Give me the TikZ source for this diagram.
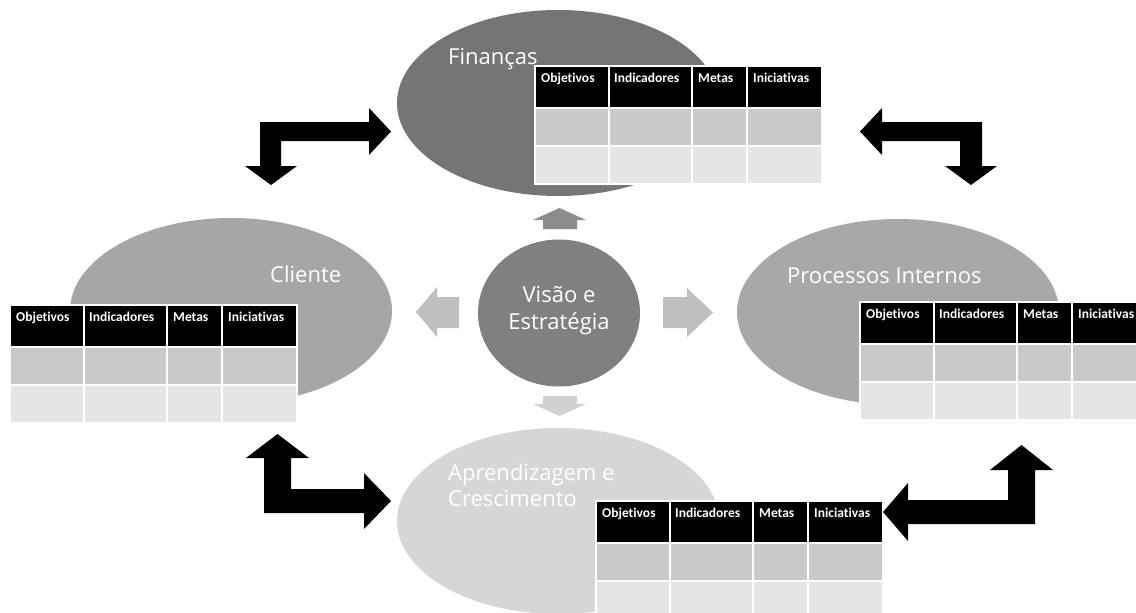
\documentclass[tikz,border=0pt]{standalone}
\usepackage{fontspec}
\setmainfont{Open Sans}
\newfontfamily\cellfont[Ligatures=NoCommon]{Carlito}
\usetikzlibrary{shapes.geometric}

\definecolor{finfill}{gray}{0.46}
\definecolor{clifill}{gray}{0.65}
\definecolor{profill}{gray}{0.66}
\definecolor{aprfill}{gray}{0.84}
\definecolor{corefill}{gray}{0.50}
\definecolor{uparrow}{gray}{0.55}
\definecolor{sidearrow}{gray}{0.75}
\definecolor{downarrow}{gray}{0.82}
\definecolor{rowone}{gray}{0.79}
\definecolor{rowtwo}{gray}{0.90}

\tikzset{
  persp/.style={ellipse, minimum width=322pt, minimum height=186pt, inner sep=0pt, draw=none},
  plabel/.style={text=white, font=\fontsize{22}{26}\selectfont, anchor=base west, inner sep=0pt},
  corelabel/.style={text=white, font=\fontsize{22}{27}\selectfont, align=center, inner sep=0pt},
  hdrcell/.style={fill=black, draw=white, line width=1.3pt},
  rowacell/.style={fill=rowone, draw=white, line width=1.3pt},
  rowbcell/.style={fill=rowtwo, draw=white, line width=1.3pt},
  hdrtext/.style={text=white, font=\cellfont\bfseries\fontsize{13.5}{15}\selectfont, anchor=base west, inner sep=0pt},
  bentarrow/.style={fill=black, draw=none},
}

% objectives / indicators / targets / initiatives grid; #1 name, #2 left, #3 top
\newcommand\bsctable[3]{%
  \begin{scope}[shift={(#2,#3)}]
    \foreach \xa/\xb in {0/74,74/157,157/212,212/287}{
      \draw[hdrcell] (\xa,0) rectangle (\xb,42);
      \draw[rowacell] (\xa,42) rectangle (\xb,80);
      \draw[rowbcell] (\xa,80) rectangle (\xb,118);
    }
    \node[hdrtext] (#1-obj) at (6,16) {Objetivos};
    \node[hdrtext] (#1-ind) at (79,16) {Indicadores};
    \node[hdrtext] (#1-met) at (163,16) {Metas};
    \node[hdrtext] (#1-ini) at (218,16) {Iniciativas};
  \end{scope}}

\begin{document}
\begin{tikzpicture}[x=1pt, y=-1pt]
  \useasboundingbox (0,0) rectangle (1136,613);
  \fill[white] (0,0) rectangle (1136,613);
  \clip (0,0) rectangle (1136,613);

  % four perspectives
  \node[persp, fill=finfill] (fin) at (558,103) {};
  \node[persp, fill=clifill] (cli) at (231,311) {};
  \node[persp, fill=profill] (pro) at (898,312) {};
  \node[persp, fill=aprfill] (apr) at (558,521) {};

  % vision and strategy
  \node[ellipse, minimum width=162pt, minimum height=147pt, inner sep=0pt, fill=corefill] (core) at (559,313) {};
  \node[corelabel] (corelbl) at (559,311) {Visão e\\Estratégia};

  % small arrows around the centre
  \fill[uparrow] (543,229) -- (543,220) -- (533,220) -- (559.5,208) -- (586,220) -- (577,220) -- (577,229) -- cycle;
  \fill[downarrow] (543,396) -- (577,396) -- (577,404) -- (586,404) -- (559.5,416) -- (533,404) -- (543,404) -- cycle;
  \fill[sidearrow] (459,297) -- (437,297) -- (437,287) -- (416,312) -- (437,337) -- (437,328) -- (459,328) -- cycle;
  \fill[sidearrow] (663,297) -- (687,297) -- (687,288) -- (713,312.5) -- (687,337) -- (687,328) -- (663,328) -- cycle;

  % perspective titles
  \node[plabel] (finlbl) at (448,64) {Finanças};
  \node[plabel] (clilbl) at (270,282) {Cliente};
  \node[plabel] (prolbl) at (787,283) {Processos Internos};
  \node[plabel] (aprlbl1) at (448,480) {Aprendizagem e};
  \node[plabel] (aprlbl2) at (448,506) {Crescimento};

  % tables
  \bsctable{tfin}{535}{66}
  \bsctable{tcli}{10}{305}
  \bsctable{tpro}{860}{302}
  \bsctable{tapr}{596}{501}

  % bent two-way arrows between perspectives
  \fill[bentarrow] (260,122) -- (369,122) -- (369,108) -- (391,131.5) -- (369,155) -- (369,141)
     -- (281,141) -- (281,166) -- (297,166) -- (271,185) -- (245,166) -- (260,166) -- cycle;
  \fill[bentarrow] (982,122) -- (882,122) -- (882,108) -- (860,131.5) -- (882,155) -- (882,141)
     -- (960,141) -- (960,166) -- (945,166) -- (971,185) -- (997,166) -- (982,166) -- cycle;
  \fill[bentarrow] (264,513) -- (264,458) -- (246,458) -- (277.5,434) -- (309,458) -- (291,458)
     -- (291,489) -- (364,489) -- (364,473) -- (391,501) -- (364,529) -- (364,513) -- cycle;
  \fill[bentarrow] (1035,524) -- (1035,470) -- (1053,470) -- (1021.5,445) -- (990,470) -- (1008,470)
     -- (1008,500) -- (908,500) -- (908,483) -- (883,512) -- (908,541) -- (908,524) -- cycle;
\end{tikzpicture}
\end{document}
